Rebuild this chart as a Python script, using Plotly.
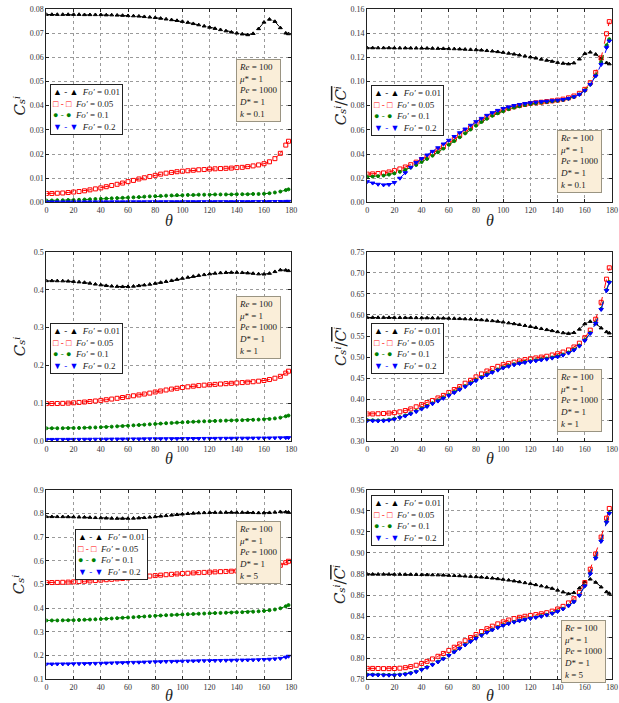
import plotly.graph_objects as go
from plotly.subplots import make_subplots

W, H = 619, 703

theta = [0, 4, 8, 12, 16, 20, 24, 28, 32, 36,
         40, 44, 48, 52, 56, 60, 64, 68, 72, 76,
         80, 84, 88, 92, 96, 100, 104, 108, 112, 116,
         120, 124, 128, 132, 136, 140, 144, 148, 152, 156,
         160, 164, 168, 172, 176, 178]

fo_labels = ["0.01", "0.05", "0.1", "0.2"]
k_labels = ["0.1", "1", "5"]

# ---- k = 0.1, C_s ----
cs_k01_fo001 = [.0777, .0777, .0777, .0777, .0777, .0777, .0777, .0776, .0776, .0776,
                .0776, .0775, .0775, .0774, .0773, .0772, .0771, .0770, .0768, .0766,
                .0764, .0761, .0758, .0755, .0752, .0748, .0744, .0739, .0734, .0729,
                .0724, .0719, .0714, .0709, .0704, .0700, .0696, .0693, .0698, .0718,
                .0745, .0757, .0748, .0722, .0700, .0697]
cs_k01_fo005 = [.0037, .0037, .0038, .0039, .0041, .0043, .0045, .0048, .0052, .0056,
                .0060, .0065, .0070, .0075, .0080, .0086, .0091, .0097, .0102, .0107,
                .0112, .0117, .0121, .0124, .0127, .0129, .0131, .0133, .0135, .0136,
                .0138, .0139, .0140, .0141, .0142, .0144, .0145, .0148, .0151, .0155,
                .0160, .0168, .0181, .0203, .0237, .0253]
cs_k01_fo01 = [.0008, .0008, .0009, .0009, .0010, .0010, .0011, .0012, .0013, .0014,
               .0015, .0016, .0017, .0018, .0019, .0020, .0021, .0022, .0024, .0025,
               .0026, .0027, .0028, .0029, .0030, .0030, .0031, .0031, .0032, .0032,
               .0032, .0033, .0033, .0033, .0033, .0034, .0034, .0034, .0035, .0035,
               .0036, .0038, .0041, .0045, .0051, .0054]
cs_k01_fo02 = [.00020, .00020, .00020, .00020, .00021, .00021, .00021, .00022, .00022, .00022,
               .00023, .00023, .00024, .00024, .00025, .00025, .00026, .00026, .00027, .00027,
               .00028, .00028, .00029, .00029, .00030, .00030, .00030, .00031, .00031, .00031,
               .00032, .00032, .00032, .00032, .00033, .00033, .00033, .00033, .00034, .00034,
               .00035, .00036, .00037, .00039, .00041, .00043]

# ---- k = 0.1, C_s / Cbar ----
rt_k01_fo001 = [.1278, .1278, .1278, .1278, .1278, .1277, .1277, .1277, .1276, .1276,
                .1275, .1275, .1274, .1273, .1272, .1271, .1270, .1268, .1266, .1264,
                .1262, .1259, .1255, .1251, .1246, .1240, .1233, .1226, .1218, .1210,
                .1202, .1193, .1184, .1175, .1166, .1157, .1150, .1145, .1153, .1185,
                .1230, .1242, .1225, .1190, .1155, .1145]
rt_k01_fo005 = [.0234, .0236, .0239, .0244, .0252, .0263, .0277, .0293, .0312, .0333,
                .0355, .0379, .0405, .0432, .0461, .0491, .0522, .0554, .0586, .0618,
                .0650, .0679, .0705, .0727, .0747, .0765, .0779, .0791, .0801, .0810,
                .0818, .0824, .0829, .0834, .0840, .0846, .0854, .0865, .0880, .0902,
                .0935, .0990, .1075, .1195, .1395, .1495]
rt_k01_fo01 = [.0212, .0214, .0217, .0222, .0230, .0240, .0253, .0269, .0288, .0310,
               .0334, .0360, .0387, .0415, .0445, .0476, .0507, .0539, .0571, .0603,
               .0635, .0665, .0692, .0716, .0737, .0755, .0771, .0784, .0795, .0805,
               .0813, .0820, .0826, .0831, .0836, .0841, .0848, .0858, .0872, .0893,
               .0925, .0975, .1050, .1160, .1300, .1350]
rt_k01_fo02 = [.0172, .0160, .0150, .0145, .0148, .0165, .0200, .0245, .0290, .0330,
               .0362, .0392, .0422, .0452, .0483, .0514, .0545, .0576, .0607, .0638,
               .0668, .0695, .0720, .0742, .0761, .0777, .0790, .0801, .0810, .0818,
               .0824, .0829, .0833, .0837, .0841, .0845, .0851, .0860, .0873, .0893,
               .0925, .0975, .1045, .1140, .1280, .1335]

# ---- k = 1, C_s ----
cs_k1_fo001 = [.4235, .4235, .4233, .4230, .4224, .4215, .4203, .4190, .4170, .4145,
               .4125, .4107, .4093, .4085, .4080, .4082, .4090, .4105, .4122, .4142,
               .4165, .4190, .4215, .4240, .4270, .4298, .4325, .4350, .4375, .4395,
               .4415, .4432, .4445, .4452, .4455, .4455, .4450, .4440, .4428, .4415,
               .4410, .4430, .4475, .4520, .4515, .4500]
cs_k1_fo005 = [.0995, .0996, .0998, .1002, .1008, .1016, .1026, .1037, .1050, .1064,
               .1080, .1097, .1115, .1135, .1156, .1178, .1201, .1224, .1248, .1272,
               .1302, .1328, .1354, .1378, .1400, .1420, .1438, .1455, .1470, .1482,
               .1492, .1502, .1512, .1521, .1530, .1540, .1550, .1560, .1572, .1587,
               .1605, .1630, .1665, .1715, .1800, .1850]
cs_k1_fo01 = [.0345, .0345, .0346, .0347, .0349, .0351, .0354, .0358, .0362, .0367,
              .0373, .0380, .0387, .0395, .0403, .0412, .0421, .0430, .0440, .0449,
              .0459, .0468, .0477, .0486, .0494, .0502, .0509, .0516, .0522, .0528,
              .0533, .0538, .0543, .0547, .0551, .0555, .0559, .0563, .0568, .0573,
              .0580, .0590, .0605, .0625, .0660, .0680]
cs_k1_fo02 = [.0050, .0050, .0051, .0051, .0052, .0052, .0053, .0054, .0055, .0056,
              .0057, .0058, .0059, .0060, .0061, .0062, .0063, .0064, .0065, .0066,
              .0067, .0068, .0069, .0070, .0071, .0072, .0073, .0074, .0075, .0076,
              .0077, .0078, .0079, .0080, .0081, .0082, .0083, .0084, .0085, .0086,
              .0087, .0089, .0091, .0093, .0095, .0097]

# ---- k = 1, C_s / Cbar ----
rt_k1_fo001 = [.5940, .5940, .5940, .5940, .5939, .5938, .5937, .5936, .5935, .5934,
               .5932, .5930, .5928, .5926, .5923, .5920, .5916, .5912, .5907, .5901,
               .5892, .5884, .5874, .5862, .5848, .5830, .5810, .5790, .5770, .5748,
               .5725, .5700, .5675, .5650, .5625, .5600, .5575, .5560, .5580, .5660,
               .5790, .5845, .5790, .5690, .5600, .5570]
rt_k1_fo005 = [.3650, .3650, .3655, .3660, .3670, .3680, .3700, .3730, .3770, .3820,
               .3870, .3920, .3970, .4030, .4090, .4160, .4230, .4300, .4380, .4450,
               .4530, .4600, .4670, .4730, .4780, .4820, .4850, .4880, .4910, .4940,
               .4960, .4980, .5000, .5020, .5050, .5080, .5120, .5170, .5240, .5330,
               .5460, .5640, .5900, .6300, .6850, .7120]
rt_k1_fo01 = [.3505, .3500, .3497, .3500, .3515, .3540, .3575, .3615, .3665, .3720,
              .3780, .3840, .3905, .3970, .4035, .4100, .4170, .4240, .4310, .4385,
              .4455, .4525, .4590, .4650, .4705, .4755, .4795, .4830, .4860, .4885,
              .4905, .4925, .4945, .4965, .4990, .5020, .5060, .5110, .5180, .5275,
              .5405, .5575, .5815, .6145, .6595, .6785]
rt_k1_fo02 = [.3490, .3485, .3482, .3485, .3500, .3525, .3560, .3600, .3650, .3705,
              .3765, .3825, .3890, .3955, .4020, .4085, .4155, .4225, .4295, .4370,
              .4440, .4510, .4575, .4635, .4690, .4740, .4780, .4815, .4845, .4870,
              .4890, .4910, .4930, .4950, .4975, .5005, .5045, .5095, .5165, .5260,
              .5390, .5560, .5800, .6130, .6580, .6770]

# ---- k = 5, C_s ----
cs_k5_fo001 = [.7860, .7860, .7860, .7858, .7855, .7850, .7845, .7838, .7830, .7820,
               .7810, .7800, .7793, .7788, .7786, .7788, .7795, .7805, .7820, .7838,
               .7858, .7880, .7903, .7925, .7948, .7970, .7990, .8005, .8018, .8028,
               .8035, .8040, .8042, .8043, .8043, .8042, .8040, .8035, .8030, .8025,
               .8022, .8030, .8050, .8070, .8060, .8050]
cs_k5_fo005 = [.5080, .5082, .5086, .5092, .5100, .5110, .5122, .5136, .5150, .5166,
               .5183, .5200, .5218, .5237, .5256, .5276, .5296, .5316, .5336, .5356,
               .5375, .5394, .5412, .5429, .5445, .5460, .5474, .5487, .5499, .5510,
               .5520, .5530, .5540, .5550, .5560, .5570, .5580, .5592, .5608, .5628,
               .5655, .5690, .5740, .5810, .5920, .5980]
cs_k5_fo01 = [.3480, .3481, .3483, .3486, .3490, .3495, .3502, .3510, .3519, .3529,
              .3540, .3552, .3565, .3579, .3593, .3607, .3621, .3635, .3649, .3663,
              .3677, .3690, .3702, .3714, .3725, .3736, .3746, .3756, .3765, .3774,
              .3783, .3792, .3800, .3808, .3816, .3824, .3832, .3841, .3852, .3866,
              .3885, .3910, .3945, .3995, .4080, .4130]
cs_k5_fo02 = [.1640, .1641, .1643, .1645, .1648, .1651, .1655, .1659, .1664, .1669,
              .1675, .1681, .1687, .1693, .1699, .1705, .1711, .1717, .1723, .1729,
              .1735, .1741, .1747, .1752, .1757, .1762, .1767, .1772, .1776, .1780,
              .1784, .1788, .1792, .1796, .1800, .1804, .1808, .1812, .1817, .1823,
              .1831, .1842, .1858, .1880, .1930, .1970]

# ---- k = 5, C_s / Cbar ----
rt_k5_fo001 = [.8797, .8797, .8797, .8797, .8797, .8796, .8796, .8795, .8795, .8794,
               .8793, .8792, .8791, .8790, .8788, .8786, .8784, .8782, .8779, .8776,
               .8773, .8769, .8765, .8760, .8754, .8748, .8741, .8733, .8725, .8716,
               .8707, .8697, .8686, .8675, .8662, .8645, .8628, .8612, .8622, .8665,
               .8725, .8750, .8720, .8675, .8630, .8615]
rt_k5_fo005 = [.7903, .7903, .7902, .7901, .7901, .7902, .7905, .7910, .7920, .7933,
               .7950, .7970, .7993, .8018, .8045, .8074, .8104, .8135, .8166, .8196,
               .8225, .8253, .8280, .8304, .8326, .8345, .8362, .8376, .8388, .8398,
               .8406, .8414, .8422, .8432, .8447, .8467, .8492, .8525, .8565, .8625,
               .8718, .8845, .8990, .9150, .9330, .9422]
rt_k5_fo01 = [.7844, .7844, .7843, .7842, .7841, .7841, .7844, .7850, .7860, .7874,
              .7893, .7915, .7940, .7967, .7996, .8028, .8061, .8095, .8128, .8160,
              .8191, .8220, .8247, .8271, .8293, .8313, .8330, .8345, .8358, .8369,
              .8379, .8389, .8400, .8412, .8427, .8446, .8470, .8500, .8538, .8598,
              .8689, .8805, .8955, .9115, .9295, .9380]
rt_k5_fo02 = [.7841, .7841, .7840, .7839, .7838, .7838, .7841, .7847, .7857, .7871,
              .7890, .7912, .7937, .7964, .7993, .8025, .8058, .8092, .8125, .8157,
              .8188, .8217, .8244, .8268, .8290, .8310, .8327, .8342, .8355, .8366,
              .8376, .8386, .8397, .8409, .8424, .8443, .8467, .8497, .8535, .8595,
              .8686, .8800, .8950, .9110, .9290, .9375]

panels = [
    [cs_k01_fo001, cs_k01_fo005, cs_k01_fo01, cs_k01_fo02],
    [rt_k01_fo001, rt_k01_fo005, rt_k01_fo01, rt_k01_fo02],
    [cs_k1_fo001, cs_k1_fo005, cs_k1_fo01, cs_k1_fo02],
    [rt_k1_fo001, rt_k1_fo005, rt_k1_fo01, rt_k1_fo02],
    [cs_k5_fo001, cs_k5_fo005, cs_k5_fo01, cs_k5_fo02],
    [rt_k5_fo001, rt_k5_fo005, rt_k5_fo01, rt_k5_fo02],
]
for p in panels:
    for s in p:
        assert len(s) == len(theta), len(s)

y_ranges = [[0, 0.08], [0, 0.16], [0, 0.5], [0.30, 0.75], [0.1, 0.9], [0.78, 0.96]]
y_dticks = [0.01, 0.02, 0.1, 0.05, 0.1, 0.02]
y_formats = [".2f", ".2f", ".1f", ".2f", ".1f", ".2f"]

colors = ["#000000", "#ff0000", "#008000", "#0000ff"]
symbols = ["triangle-up", "square-open", "circle", "triangle-down"]
msizes = [3.5, 4, 3, 4]

SERIF = "Liberation Serif, DejaVu Serif, serif"
LABEL_FONT = "DejaVu Serif, Liberation Serif, serif"

fig = make_subplots(rows=3, cols=2)

xdom = [[45 / W, 293 / W], [370 / W, 618 / W]]
rows_px = [(5, 201), (251, 443), (492, 684)]


def px_x(px):
    return px / W


def px_y(py):
    return 1 - py / H


for i, series in enumerate(panels):
    r, c = i // 2 + 1, i % 2 + 1
    for j, ys in enumerate(series):
        fig.add_trace(go.Scatter(
            x=theta, y=ys, mode="lines+markers",
            name="Fo′ = " + fo_labels[j], showlegend=False,
            line=dict(color=colors[j], width=1, dash="dash"),
            marker=dict(symbol=symbols[j], size=msizes[j], color=colors[j],
                        line=dict(color=colors[j], width=1)),
        ), row=r, col=c)

for i in range(6):
    r, c = i // 2, i % 2
    sfx = "" if i == 0 else str(i + 1)
    top, bot = rows_px[r]
    common = dict(
        showline=True, linecolor="#222", linewidth=1, mirror="ticks",
        ticks="inside", ticklen=3, tickcolor="#222",
        showgrid=True, gridcolor="#9a9a9a", griddash="dot", gridwidth=1,
        zeroline=False, tickfont=dict(family=SERIF, size=8, color="#333"),
    )
    fig.layout["xaxis" + sfx].update(domain=xdom[c], range=[0, 180], dtick=20, tick0=0, **common)
    fig.layout["yaxis" + sfx].update(
        domain=[px_y(bot), px_y(top)], range=y_ranges[i], dtick=y_dticks[i],
        tick0=y_ranges[i][0], tickformat=y_formats[i], **common)

annotations = []

# axis titles (unicode sub/superscripts)
theta_y = [219, 460, 700]
ylab_y = [103, 347, 588]
ylab_left = "<i>C\u209b\u2071</i>"
ylab_right = "<i>C\u209b\u2071</i>/<span style='text-decoration:overline'><i>C\u2071</i></span>"
for r in range(3):
    for c in range(2):
        xc = (xdom[c][0] + xdom[c][1]) / 2
        annotations.append(dict(text="<i>θ</i>", x=xc, y=px_y(theta_y[r]),
                                xref="paper", yref="paper", showarrow=False,
                                xanchor="center", yanchor="middle",
                                font=dict(family=SERIF, size=16, color="#222")))
    annotations.append(dict(text=ylab_left, x=px_x(18), y=px_y(ylab_y[r]),
                            xref="paper", yref="paper", showarrow=False, textangle=-90,
                            xanchor="center", yanchor="middle",
                            font=dict(family=LABEL_FONT, size=15, color="#222")))
    annotations.append(dict(text=ylab_right, x=px_x(343), y=px_y(ylab_y[r]),
                            xref="paper", yref="paper", showarrow=False, textangle=-90,
                            xanchor="center", yanchor="middle",
                            font=dict(family=LABEL_FONT, size=15, color="#222")))

# legend boxes (top-left corner in px)
legend_pos = [(49, 81), (374, 82), (49, 323), (374, 323), (74, 532), (374, 497)]
leg_syms = ["▲", "□", "●", "▼"]
leg_lines = []
for j in range(4):
    leg_lines.append("<span style='color:%s'>%s - %s</span>\u00a0\u00a0<i>Fo′</i> = %s"
                     % (colors[j], leg_syms[j], leg_syms[j], fo_labels[j]))
leg_text = "<br>".join(leg_lines)
for (lx, ly) in legend_pos:
    annotations.append(dict(text=leg_text, x=px_x(lx), y=px_y(ly), xref="paper", yref="paper",
                            showarrow=False, xanchor="left", yanchor="top", align="left",
                            bgcolor="white", bordercolor="#222", borderwidth=1, borderpad=2,
                            font=dict(family=SERIF, size=9, color="#222")))

# parameter boxes
info_pos = [(237, 56), (562, 128), (237, 296), (562, 370), (237, 524), (566, 624)]
for i, (bx, by) in enumerate(info_pos):
    k = k_labels[i // 2]
    txt = ("<i>Re</i> = 100<br><i>μ</i>* = 1<br><i>Pe</i> = 1000<br>"
           "<i>D</i>* = 1<br><i>k</i> = " + k)
    annotations.append(dict(text=txt, x=px_x(bx), y=px_y(by), xref="paper", yref="paper",
                            showarrow=False, xanchor="left", yanchor="top", align="left",
                            bgcolor="#FAEED9", bordercolor="#9a9482", borderwidth=1, borderpad=2,
                            font=dict(family=SERIF, size=9, color="#222")))

fig.update_layout(
    width=W, height=H, margin=dict(l=0, r=0, t=0, b=0),
    paper_bgcolor="white", plot_bgcolor="white",
    showlegend=False, annotations=annotations,
)

fig.write_html("out.html")
